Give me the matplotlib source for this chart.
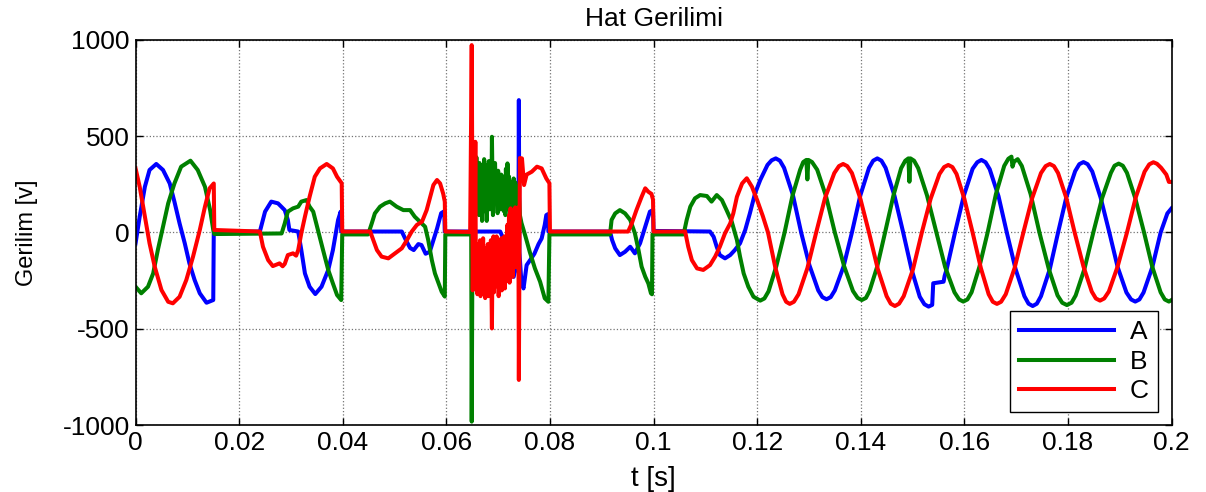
import matplotlib.pyplot as plt
import numpy as np

plt.rcParams['font.family'] = ['Liberation Sans', 'DejaVu Sans']
plt.rcParams['axes.unicode_minus'] = False

# line voltages, (t [s], v [V]) per phase
phase_a = [
    (0.0000, -56), (0.0008, 82), (0.0018, 237), (0.0027, 324), (0.0040, 355),
    (0.0053, 324), (0.0066, 254), (0.0075, 160), (0.0085, 47), (0.0095, -56),
    (0.0104, -160), (0.0114, -246), (0.0124, -315), (0.0137, -364), (0.0150, -350),
    (0.0151, 3), (0.0240, 5), (0.0250, 108), (0.0262, 160), (0.0275, 151),
    (0.0288, 116), (0.0294, 65), (0.0297, 13), (0.0314, 5), (0.0320, -91),
    (0.0327, -212), (0.0336, -281), (0.0347, -319), (0.0359, -281), (0.0372, -194),
    (0.0381, -91), (0.0391, 65), (0.0396, 108), (0.0397, 5), (0.0514, 5),
    (0.0522, -40), (0.0530, -80), (0.0537, -91), (0.0546, -60), (0.0552, -65),
    (0.0560, -110), (0.0568, -100), (0.0575, -40), (0.0582, 20), (0.0590, 100),
    (0.0596, 110), (0.0597, 5), (0.0704, 5), (0.0708, -20), (0.0712, -100),
    (0.0718, -200), (0.0725, -180), (0.0730, -230), (0.0735, -170), (0.0739, -200),
    (0.0740, 686), (0.0741, -100), (0.0745, -260), (0.0749, -290), (0.0755, -169),
    (0.0762, -142), (0.0770, -110), (0.0778, -60), (0.0784, -31), (0.0790, 40),
    (0.0793, 90), (0.0796, 95), (0.0797, 5), (0.0916, 5), (0.0920, -39),
    (0.0926, -82), (0.0935, -117), (0.0945, -100), (0.0955, -74), (0.0964, -108),
    (0.0974, -56), (0.0984, 30), (0.0993, 108), (0.0999, 116), (0.1000, 8),
    (0.1109, 5), (0.1116, -22), (0.1122, -74), (0.1128, -117), (0.1138, -134),
    (0.1148, -117), (0.1157, -91), (0.1167, -56), (0.1177, 13), (0.1186, 99),
    (0.1196, 203), (0.1206, 272), (0.1220, 350), (0.1228, 374), (0.1236, 384),
    (0.1244, 372), (0.1252, 335), (0.1269, 195), (0.1285, 0), (0.1301, -170),
    (0.1318, -300), (0.1326, -335), (0.1334, -346), (0.1342, -335), (0.1350, -300),
    (0.1367, -175), (0.1383, 0), (0.1399, 190), (0.1416, 335), (0.1424, 372),
    (0.1432, 384), (0.1440, 372), (0.1448, 335), (0.1465, 192), (0.1482, 0),
    (0.1498, -190), (0.1514, -333), (0.1523, -372), (0.1531, -384), (0.1538, -375),
    (0.1540, -263), (0.1560, -255), (0.1562, -225), (0.1566, -190), (0.1582, 0),
    (0.1599, 190), (0.1616, 330), (0.1625, 364), (0.1633, 376), (0.1641, 364),
    (0.1649, 328), (0.1666, 188), (0.1682, 0), (0.1699, -190), (0.1716, -330),
    (0.1724, -369), (0.1732, -381), (0.1740, -369), (0.1748, -330), (0.1765, -190),
    (0.1781, 0), (0.1797, 183), (0.1814, 318), (0.1822, 354), (0.1830, 365),
    (0.1838, 354), (0.1847, 316), (0.1863, 182), (0.1880, 0), (0.1896, -179),
    (0.1913, -311), (0.1922, -347), (0.1930, -358), (0.1938, -347), (0.1946, -311),
    (0.1963, -179), (0.1979, 0), (0.1992, 99), (0.2000, 125),
]

phase_b = [
    (0.0000, -281), (0.0011, -315), (0.0024, -281), (0.0034, -212), (0.0043, -91),
    (0.0053, 30), (0.0063, 151), (0.0075, 254), (0.0088, 341), (0.0106, 372),
    (0.0120, 324), (0.0134, 237), (0.0144, 116), (0.0150, 13), (0.0152, -8),
    (0.0282, -5), (0.0288, 47), (0.0294, 108), (0.0304, 125), (0.0314, 134),
    (0.0320, 160), (0.0330, 168), (0.0336, 134), (0.0343, 108), (0.0352, 13),
    (0.0362, -91), (0.0372, -194), (0.0381, -264), (0.0389, -324), (0.0397, -350),
    (0.0399, -10), (0.0449, -10), (0.0456, 47), (0.0462, 99), (0.0472, 134),
    (0.0482, 151), (0.0491, 160), (0.0504, 134), (0.0517, 116), (0.0530, 116),
    (0.0539, 82), (0.0549, 56), (0.0559, 30), (0.0565, -39), (0.0572, -143),
    (0.0578, -212), (0.0585, -264), (0.0591, -307), (0.0597, -332), (0.0598, -10),
    (0.0648, -10), (0.0649, -980), (0.0651, 330), (0.0653, 200), (0.0655, 370),
    (0.0656, 120), (0.0658, 390), (0.0660, 150), (0.0661, 330), (0.0663, 90),
    (0.0664, 360), (0.0666, 140), (0.0667, 300), (0.0669, 60), (0.0670, 340),
    (0.0672, 170), (0.0673, 380), (0.0675, 110), (0.0676, 350), (0.0678, 60),
    (0.0679, 300), (0.0681, 150), (0.0682, 370), (0.0684, 120), (0.0685, 320),
    (0.0687, 150), (0.0688, 496), (0.0690, 90), (0.0691, 330), (0.0693, 160),
    (0.0694, 360), (0.0696, 180), (0.0697, 300), (0.0699, 100), (0.0700, 320),
    (0.0702, 140), (0.0703, 280), (0.0705, 120), (0.0706, 300), (0.0708, 160),
    (0.0709, 270), (0.0711, 110), (0.0712, 290), (0.0714, 90), (0.0715, 330),
    (0.0717, 150), (0.0718, 358), (0.0720, 120), (0.0721, 290), (0.0723, 90),
    (0.0724, 260), (0.0726, 80), (0.0727, 250), (0.0729, 130), (0.0730, 280),
    (0.0732, 100), (0.0733, 260), (0.0735, 60), (0.0736, 240), (0.0738, 60),
    (0.0740, 200), (0.0742, 90), (0.0745, 50), (0.0752, -13), (0.0761, -100),
    (0.0771, -186), (0.0781, -255), (0.0790, -341), (0.0797, -359), (0.0799, -10),
    (0.0916, -10), (0.0919, 65), (0.0926, 99), (0.0935, 116), (0.0945, 99),
    (0.0955, 65), (0.0964, -4), (0.0971, -91), (0.0977, -177), (0.0984, -229),
    (0.0990, -264), (0.0995, -315), (0.0997, -320), (0.0998, -10), (0.1058, -10),
    (0.1064, 65), (0.1071, 134), (0.1080, 177), (0.1090, 194), (0.1103, 189),
    (0.1112, 160), (0.1122, 194), (0.1132, 168), (0.1141, 116), (0.1151, 56),
    (0.1161, -39), (0.1167, -125), (0.1174, -212), (0.1183, -281), (0.1193, -333),
    (0.1206, -353), (0.1214, -342), (0.1222, -305), (0.1237, -175), (0.1253, 0),
    (0.1268, 188), (0.1283, 325), (0.1289, 365), (0.1295, 376), (0.1297, 275),
    (0.1299, 376), (0.1306, 365), (0.1316, 325), (0.1333, 188), (0.1350, 0),
    (0.1368, -175), (0.1385, -303), (0.1394, -339), (0.1402, -350), (0.1410, -339),
    (0.1417, -303), (0.1432, -175), (0.1447, 0), (0.1463, 190), (0.1478, 333),
    (0.1486, 372), (0.1492, 384), (0.1494, 263), (0.1496, 384), (0.1503, 372),
    (0.1511, 333), (0.1528, 192), (0.1546, 0), (0.1563, -179), (0.1581, -310),
    (0.1590, -347), (0.1598, -358), (0.1606, -347), (0.1614, -310), (0.1629, -179),
    (0.1645, 0), (0.1661, 199), (0.1677, 345), (0.1685, 382), (0.1691, 393),
    (0.1693, 341), (0.1696, 367), (0.1703, 380), (0.1711, 345), (0.1728, 199),
    (0.1745, 0), (0.1763, -188), (0.1780, -326), (0.1789, -364), (0.1798, -376),
    (0.1807, -364), (0.1815, -326), (0.1832, -188), (0.1849, 0), (0.1866, 178),
    (0.1883, 309), (0.1890, 346), (0.1898, 357), (0.1906, 346), (0.1914, 309),
    (0.1930, 178), (0.1947, 0), (0.1963, -179), (0.1979, -310), (0.1987, -347),
    (0.1995, -358), (0.2000, -350),
]

phase_c = [
    (0.0000, 332), (0.0008, 237), (0.0018, 82), (0.0027, -56), (0.0037, -177),
    (0.0050, -298), (0.0063, -359), (0.0072, -367), (0.0085, -333), (0.0098, -246),
    (0.0111, -125), (0.0124, 13), (0.0134, 134), (0.0143, 229), (0.0151, 254),
    (0.0152, 13), (0.0240, 5), (0.0246, -74), (0.0256, -143), (0.0265, -174),
    (0.0278, -160), (0.0284, -175), (0.0288, -163), (0.0294, -117), (0.0304, -108),
    (0.0310, -120), (0.0314, -91), (0.0320, -4), (0.0327, 82), (0.0336, 185),
    (0.0346, 289), (0.0356, 332), (0.0369, 355), (0.0381, 332), (0.0389, 289),
    (0.0398, 255), (0.0399, 5), (0.0453, 5), (0.0459, -39), (0.0466, -91),
    (0.0475, -125), (0.0488, -134), (0.0501, -108), (0.0514, -82), (0.0524, -39),
    (0.0533, 4), (0.0543, 39), (0.0553, 56), (0.0562, 116), (0.0569, 185),
    (0.0575, 246), (0.0582, 272), (0.0588, 254), (0.0594, 200), (0.0597, 160),
    (0.0598, 5), (0.0646, 3), (0.0649, 971), (0.0651, -300), (0.0652, -40),
    (0.0654, -200), (0.0655, 100), (0.0656, 470), (0.0657, -250), (0.0659, -60),
    (0.0660, -320), (0.0662, -100), (0.0663, -300), (0.0665, -40), (0.0666, -330),
    (0.0668, -120), (0.0669, -280), (0.0671, -30), (0.0672, -300), (0.0674, -80),
    (0.0675, -340), (0.0677, -120), (0.0678, -290), (0.0680, -60), (0.0681, -330),
    (0.0683, -90), (0.0684, -300), (0.0686, -40), (0.0687, -250), (0.0688, -497),
    (0.0689, -150), (0.0691, -20), (0.0692, -310), (0.0694, -70), (0.0695, -280),
    (0.0697, -20), (0.0698, -260), (0.0700, -60), (0.0701, -330), (0.0703, -100),
    (0.0704, -290), (0.0706, -30), (0.0707, -300), (0.0709, -70), (0.0710, -270),
    (0.0712, -20), (0.0713, -290), (0.0715, -60), (0.0716, -250), (0.0718, 40),
    (0.0719, -230), (0.0721, 90), (0.0722, -260), (0.0724, 125), (0.0725, -200),
    (0.0727, 110), (0.0728, -230), (0.0730, 100), (0.0731, -120), (0.0733, 130),
    (0.0734, -180), (0.0736, 120), (0.0738, -100), (0.0739, 130), (0.0740, -764),
    (0.0742, 386), (0.0746, 384), (0.0750, 246), (0.0755, 300), (0.0765, 315),
    (0.0775, 341), (0.0784, 332), (0.0793, 280), (0.0799, 255), (0.0800, 5),
    (0.0951, 5), (0.0958, 47), (0.0967, 116), (0.0977, 185), (0.0984, 229),
    (0.0990, 211), (0.0996, 200), (0.0999, 170), (0.1000, 5), (0.1061, 5),
    (0.1067, -74), (0.1074, -143), (0.1084, -186), (0.1096, -194), (0.1109, -169),
    (0.1119, -125), (0.1128, -74), (0.1138, -4), (0.1148, 47), (0.1154, 99),
    (0.1161, 185), (0.1171, 254), (0.1180, 281), (0.1190, 237), (0.1200, 168),
    (0.1211, 85), (0.1221, 0), (0.1235, -180), (0.1249, -320), (0.1256, -359),
    (0.1263, -370), (0.1271, -359), (0.1280, -320), (0.1297, -185), (0.1314, 0),
    (0.1331, 178), (0.1349, 308), (0.1358, 344), (0.1366, 355), (0.1374, 344),
    (0.1383, 308), (0.1399, 178), (0.1416, 0), (0.1433, -190), (0.1450, -330),
    (0.1458, -369), (0.1466, -381), (0.1474, -369), (0.1483, -330), (0.1501, -190),
    (0.1518, 0), (0.1535, 175), (0.1552, 303), (0.1561, 339), (0.1569, 350),
    (0.1577, 339), (0.1585, 303), (0.1600, 175), (0.1616, 0), (0.1632, -185),
    (0.1647, -320), (0.1655, -359), (0.1663, -370), (0.1671, -359), (0.1680, -320),
    (0.1697, -185), (0.1714, 0), (0.1731, 178), (0.1748, 308), (0.1757, 344),
    (0.1765, 355), (0.1773, 344), (0.1781, 308), (0.1797, 178), (0.1813, 0),
    (0.1830, -176), (0.1846, -306), (0.1854, -342), (0.1862, -353), (0.1870, -342),
    (0.1879, -306), (0.1896, -176), (0.1914, 0), (0.1931, 182), (0.1948, 315),
    (0.1957, 353), (0.1965, 364), (0.1972, 356), (0.1980, 335), (0.1990, 300),
    (0.1995, 262), (0.2000, 262),
]

labels = ['A', 'B', 'C']
colors = ['#0000ff', '#008000', '#ff0000']
x_ticks = [0, 0.02, 0.04, 0.06, 0.08, 0.1, 0.12, 0.14, 0.16, 0.18, 0.2]
x_ticklabels = ['0', '0.02', '0.04', '0.06', '0.08', '0.1', '0.12', '0.14', '0.16', '0.18', '0.2']
y_ticks = [-1000, -500, 0, 500, 1000]

fig = plt.figure(figsize=(12.06, 4.92), dpi=100)
ax = fig.add_axes([0.1124, 0.1352, 0.9714 - 0.1124, 0.9197 - 0.1352])

for data, lab, col in zip([phase_a, phase_b, phase_c], labels, colors):
    arr = np.array(data, dtype=float)
    ax.plot(arr[:, 0], arr[:, 1], color=col, lw=2.9, label=lab,
            solid_joinstyle='round')

ax.set_xlim(0, 0.2)
ax.set_ylim(-1000, 1000)
ax.set_xticks(x_ticks)
ax.set_xticklabels(x_ticklabels)
ax.set_yticks(y_ticks)
ax.tick_params(direction='in', length=5, width=1, top=True, right=True,
               labelsize=19, pad=4)
ax.grid(True, color='0.45', linestyle=':', linewidth=0.9)
for s in ax.spines.values():
    s.set_linewidth(1.2)

ax.set_title('Hat Gerilimi', fontsize=19, pad=10)
ax.set_xlabel('t [s]', fontsize=20, labelpad=8)
ax.set_ylabel('Gerilim [v]', fontsize=17, labelpad=18)

leg = ax.legend(loc='lower right', fontsize=19, fancybox=False, framealpha=1,
                edgecolor='black', handlelength=3.6, borderaxespad=0.5,
                labelspacing=0.2, handletextpad=0.6, borderpad=0.35)
leg.get_frame().set_linewidth(1.0)

fig.savefig('out.png', dpi=100)
